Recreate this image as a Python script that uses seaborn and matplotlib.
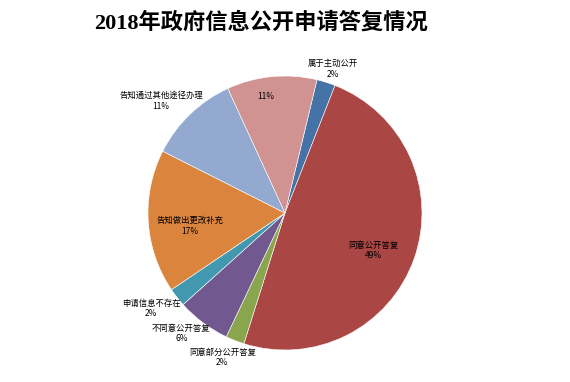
import numpy as np
import matplotlib
matplotlib.use("Agg")
import matplotlib.pyplot as plt
import seaborn as sns

sns.set_theme(style="white")
plt.rcParams['font.family'] = ['Noto Sans CJK SC', 'DejaVu Sans']

# Data (clockwise from near the top)
categories = ["属于主动公开", "同意公开答复", "同意部分公开答复", "不同意公开答复",
              "申请信息不存在", "告知做出更改补充", "告知通过其他途径办理", ""]
values = [2.2, 48.9, 2.2, 6.3, 2.2, 16.9, 10.7, 10.6]
pct_labels = ["2%", "49%", "2%", "6%", "2%", "17%", "11%", "11%"]
colors = ["#4572A7", "#AA4643", "#89A54E", "#71588F", "#4198AF",
          "#DB843D", "#93A9CF", "#D19392"]

# label placement (radius factor, angle tweak in degrees)
label_r = [1.11, 0.70, 1.15, 1.16, 1.20, 0.70, 1.22, 0.86]
label_da = [-1, -3.5, -2, -4, -2.5, 4, 4, 4]

fig = plt.figure(figsize=(5.70, 3.82), dpi=100)
fig.patch.set_facecolor("white")
ax = fig.add_axes([148/570, 32/382, 274/570, 274/382])
ax.axis("off")

wedges, _ = ax.pie(values, colors=colors, startangle=76.5, counterclock=False,
                   radius=1.0, center=(0, 0), frame=False,
                   wedgeprops=dict(edgecolor="white", linewidth=0.4))
ax.set_xlim(-1, 1)
ax.set_ylim(-1, 1)
ax.set_aspect("auto")

for w, cat, pl, rf, da in zip(wedges, categories, pct_labels, label_r, label_da):
    mid = np.deg2rad((w.theta1 + w.theta2) / 2 + da)
    x, y = rf * np.cos(mid), rf * np.sin(mid)
    txt = f"{cat}\n{pl}" if cat else pl
    ax.text(x, y, txt, ha="center", va="center", fontsize=6, color="black",
            linespacing=1.25, clip_on=False)

fig.text(261/570, 1 - 23/382, "2018年政府信息公开申请答复情况",
         ha="center", va="center", fontsize=16, fontweight="bold",
         family=['Liberation Serif', 'Noto Sans CJK SC'], color="black")

fig.savefig("out.png", dpi=100, facecolor="white")
